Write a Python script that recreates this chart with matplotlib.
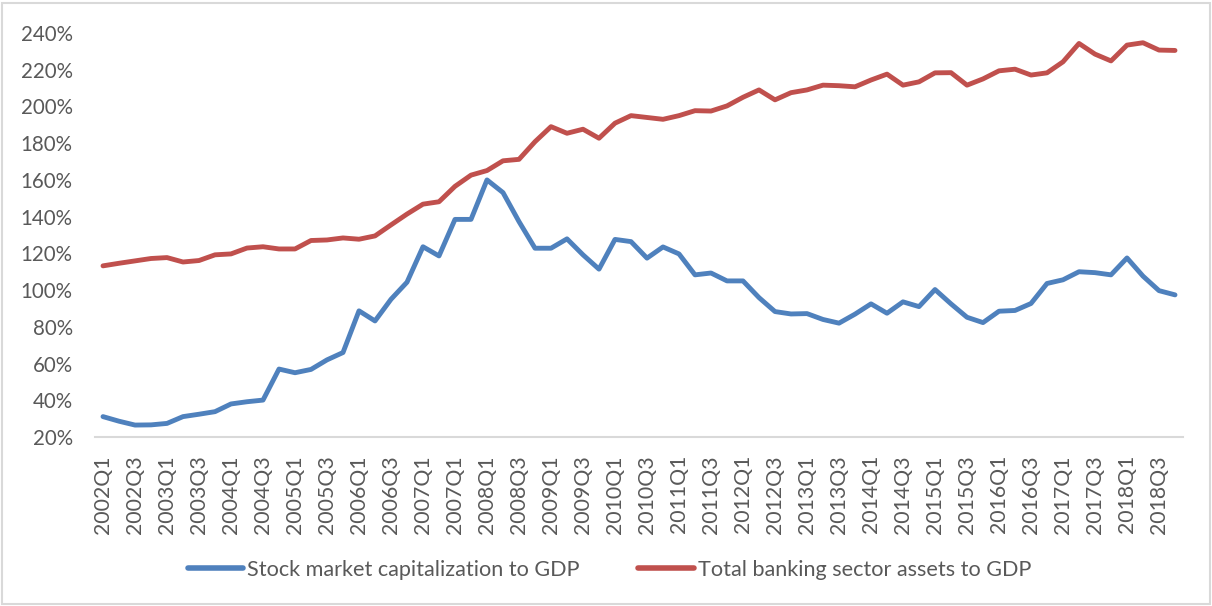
import matplotlib
matplotlib.use("Agg")
import matplotlib.pyplot as plt
from matplotlib.patches import Rectangle
from matplotlib.ticker import FuncFormatter, MultipleLocator

# ---------------- data ----------------
years = list(range(2002, 2019))
quarters = [f"{y}Q{q}" for y in years for q in (1, 2, 3, 4)]

stock_market_cap = [
    31.1, 28.6, 26.5, 26.6, 27.4, 31.1, 32.4, 33.8,
    38.0, 39.2, 40.1, 57.0, 55.0, 56.8, 62.0, 66.0,
    88.7, 83.2, 95.0, 104.3, 123.6, 118.6, 138.5, 138.5,
    160.0, 153.1, 137.3, 122.8, 122.8, 127.9, 119.2, 111.4,
    127.6, 126.4, 117.4, 123.5, 119.7, 108.3, 109.3, 105.0,
    105.0, 95.9, 88.3, 87.0, 87.2, 84.0, 82.0, 86.9,
    92.5, 87.4, 93.6, 91.0, 100.3, 92.5, 85.2, 82.3,
    88.5, 88.9, 92.7, 103.6, 105.6, 110.0, 109.5, 108.3,
    117.5, 107.6, 99.7, 97.4,
]

banking_assets = [
    113.2, 114.6, 115.9, 117.2, 117.7, 115.3, 116.1, 119.2,
    119.7, 122.9, 123.6, 122.4, 122.4, 127.0, 127.3, 128.4,
    127.7, 129.5, 135.5, 141.4, 146.8, 148.1, 156.5, 162.6,
    165.1, 170.4, 171.2, 180.8, 189.0, 185.4, 187.6, 182.7,
    190.9, 195.0, 194.0, 193.0, 195.0, 197.7, 197.5, 200.3,
    205.0, 209.0, 203.6, 207.5, 209.0, 211.6, 211.3, 210.7,
    214.4, 217.6, 211.6, 213.4, 218.3, 218.4, 211.6, 215.0,
    219.4, 220.3, 217.1, 218.3, 224.3, 234.3, 228.5, 224.8,
    233.4, 234.7, 230.7, 230.5,
]

# tick labels as printed on the reference (every second quarter)
tick_labels = [
    "2002Q1", "2002Q3", "2003Q1", "2003Q3", "2004Q1", "2004Q3",
    "2005Q1", "2005Q3", "2006Q1", "2006Q3", "2007Q1", "2007Q1",
    "2008Q1", "2008Q3", "2009Q1", "2009Q3", "2010Q1", "2010Q3",
    "2011Q1", "2011Q3", "2012Q1", "2012Q3", "2013Q1", "2013Q3",
    "2014Q1", "2014Q3", "2015Q1", "2015Q3", "2016Q1", "2016Q3",
    "2017Q1", "2017Q3", "2018Q1", "2018Q3",
]

series_names = ["Stock market capitalization to GDP",
                "Total banking sector assets to GDP"]

# ---------------- style ----------------
plt.rcParams["font.family"] = ["Lato", "DejaVu Sans"]
TEXT = "#595959"
BLUE = "#4F81BD"
RED = "#C0504D"
GRID = "#D9D9D9"

W, H, DPI = 1212, 606, 100
fig = plt.figure(figsize=(W / DPI, H / DPI), dpi=DPI)
fig.patch.set_facecolor("white")

ax = fig.add_axes([95 / W, 1 - 437 / H, 1088 / W, 404 / H])
x = list(range(len(quarters)))

ax.plot(x, stock_market_cap, color=BLUE, lw=3.5,
        solid_capstyle="round", solid_joinstyle="round",
        label=series_names[0])
ax.plot(x, banking_assets, color=RED, lw=3.5,
        solid_capstyle="round", solid_joinstyle="round",
        label=series_names[1])

ax.set_xlim(-0.5, len(quarters) - 0.5)
ax.set_ylim(20, 240)
ax.yaxis.set_major_locator(MultipleLocator(20))
ax.yaxis.set_major_formatter(FuncFormatter(lambda v, p: f"{v:.0f}%"))

ax.set_xticks(x[::2])
ax.set_xticklabels(tick_labels, rotation=90, va="top", ha="center")

for s in ("top", "right", "left"):
    ax.spines[s].set_visible(False)
ax.spines["bottom"].set_color(GRID)
ax.spines["bottom"].set_linewidth(1.5)

ax.tick_params(axis="y", length=0, colors=TEXT, labelsize=14.8, pad=16)
ax.tick_params(axis="x", length=0, colors=TEXT, labelsize=15.3, pad=13)

leg = fig.legend(loc="center", bbox_to_anchor=(0.503, 1 - 570 / H),
                 ncol=2, frameon=False, fontsize=15.6, labelcolor=TEXT,
                 handlelength=2.55, handletextpad=0.2, columnspacing=2.7)
for line in leg.get_lines():
    line.set_linewidth(4)
    line.set_solid_capstyle("round")

fig.add_artist(Rectangle((2.5 / W, 2.5 / H), 1 - 5 / W, 1 - 5 / H,
                         transform=fig.transFigure, fill=False,
                         edgecolor=GRID, lw=1.5))

fig.savefig("out.png", dpi=DPI, facecolor="white")
